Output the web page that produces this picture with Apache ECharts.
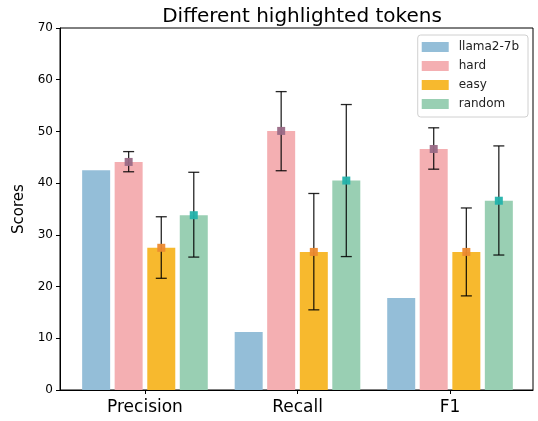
<!DOCTYPE html>
<html><head><meta charset="utf-8">
<script src="https://cdn.jsdelivr.net/npm/echarts@6/dist/echarts.min.js"></script>
<style>html,body{margin:0;padding:0;background:#fff}#c{width:538px;height:421px}</style>
</head><body><div id="c"></div>
<script>
const categories = ['Precision', 'Recall', 'F1'];
const seriesNames = ['llama2-7b', 'hard', 'easy', 'random'];
const llama = [42.5, 11.2, 17.8];
const hard = [44.1, 50.1, 46.6];
const easy = [27.5, 26.7, 26.7];
const random = [33.8, 40.5, 36.6];
const hardLow = [42.2, 42.4, 42.7];
const hardHigh = [46.1, 57.7, 50.7];
const easyLow = [21.6, 15.5, 18.2];
const easyHigh = [33.5, 38.0, 35.2];
const randomLow = [25.7, 25.8, 26.1];
const randomHigh = [42.1, 55.2, 47.2];
const yTicks = [0, 10, 20, 30, 40, 50, 60, 70];

const barColors = ['#94bed8', '#f4afb2', '#f7b92e', '#99cfb3'];
const markerColors = ['#9a6a86', '#ec8a30', '#23b2ab'];
const offsets = [-0.32, -0.107, 0.107, 0.32];
const values = [llama, hard, easy, random];

const font = 'DejaVu Sans';
const series = values.map((vals, s) => ({
  name: seriesNames[s],
  type: 'bar',
  barWidth: 28,
  barGap: '-100%',
  itemStyle: { color: barColors[s] },
  data: vals.map((v, i) => [i + offsets[s], v]),
  z: 2
}));

const errData = [];
[[hard, hardLow, hardHigh], [easy, easyLow, easyHigh], [random, randomLow, randomHigh]].forEach((g, k) => {
  g[0].forEach((v, i) => errData.push([i + offsets[k + 1], g[1][i], g[2][i], v, k]));
});
series.push({
  type: 'custom',
  name: 'err',
  z: 5,
  data: errData,
  renderItem: function (params, api) {
    const x = api.value(0);
    const lo = api.coord([x, api.value(1)]);
    const hi = api.coord([x, api.value(2)]);
    const m = api.coord([x, api.value(3)]);
    const k = api.value(4);
    const cw = 5.5;
    const st = { stroke: 'rgba(0,0,0,0.85)', lineWidth: 1.3 };
    return {
      type: 'group',
      children: [
        { type: 'line', shape: { x1: lo[0], y1: lo[1], x2: hi[0], y2: hi[1] }, style: st },
        { type: 'line', shape: { x1: lo[0] - cw, y1: lo[1], x2: lo[0] + cw, y2: lo[1] }, style: st },
        { type: 'line', shape: { x1: hi[0] - cw, y1: hi[1], x2: hi[0] + cw, y2: hi[1] }, style: st },
        { type: 'rect', shape: { x: m[0] - 4, y: m[1] - 4, width: 8, height: 8 }, style: { fill: markerColors[k], opacity: 0.95 } }
      ]
    };
  }
});

const chart = echarts.init(document.getElementById('c'), null, { renderer: 'canvas' });
chart.setOption({
  animation: false,
  backgroundColor: '#fff',
  title: {
    text: 'Different highlighted tokens',
    left: 297, textAlign: 'center', top: 2,
    textStyle: { fontFamily: font, fontSize: 20, fontWeight: 'normal', color: '#000' }
  },
  legend: {
    data: seriesNames,
    orient: 'vertical',
    right: 10, top: 35,
    icon: 'rect',
    itemWidth: 27, itemHeight: 10, itemGap: 7,
    padding: [6, 9, 7, 4],
    borderColor: '#d0d0d0', borderWidth: 1, borderRadius: 3,
    backgroundColor: 'rgba(255,255,255,0.8)',
    textStyle: { fontFamily: font, fontSize: 12, color: '#222', padding: [0, 0, 0, 5] }
  },
  grid: { left: 60, right: 5, top: 28, bottom: 31, show: true, borderColor: '#000', borderWidth: 1 },
  xAxis: {
    type: 'value', min: -0.557, max: 2.544,
    splitLine: { show: false },
    axisLine: { show: true, onZero: false, lineStyle: { color: '#000' } },
    axisTick: { show: true, customValues: [0, 1, 2], length: 4, lineStyle: { color: '#000' } },
    axisLabel: {
      customValues: [0, 1, 2],
      formatter: v => categories[Math.round(v)],
      fontFamily: font, fontSize: 17, color: '#000', margin: 9
    }
  },
  yAxis: {
    type: 'value', min: 0, max: 70, interval: 10,
    name: 'Scores', nameLocation: 'middle', nameGap: 33,
    nameTextStyle: { fontFamily: font, fontSize: 15, color: '#000' },
    splitLine: { show: false },
    axisLine: { show: true, onZero: false, lineStyle: { color: '#000' } },
    axisTick: { show: true, length: 4, lineStyle: { color: '#000' } },
    axisLabel: { fontFamily: font, fontSize: 12, color: '#000', margin: 7,
      formatter: v => yTicks.includes(v) ? String(v) : '' }
  },
  series: series
});
</script>
</body></html>
